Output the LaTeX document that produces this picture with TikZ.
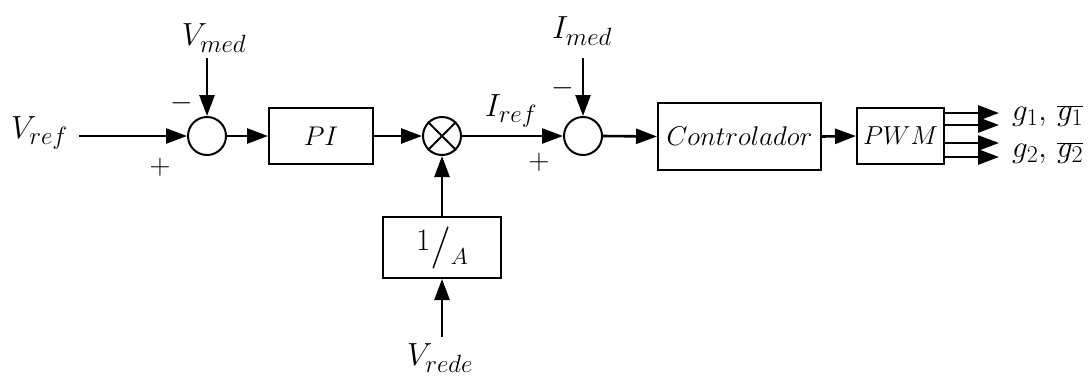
\RequirePackage{fix-cm}
\documentclass[tikz,border=0pt]{standalone}
\usetikzlibrary{arrows.meta}
% math sizes for every text size in use (larger subscripts)
\DeclareMathSizes{32}{32}{25}{20}
\DeclareMathSizes{31}{31}{24}{19}
\DeclareMathSizes{29}{29}{22}{17}
\DeclareMathSizes{27}{27}{21}{16}
\DeclareMathSizes{26}{26}{20}{15}
\DeclareMathSizes{23}{23}{18}{14}
\DeclareMathSizes{42}{42}{32}{25}
\begin{document}
\begin{tikzpicture}[x=1pt,y=-1pt,
  sig/.style={line width=2.6pt, -{Triangle[length=21pt,width=15pt]}},
  blk/.style={draw, line width=2pt, inner sep=0pt},
  sumc/.style={draw, circle, line width=2pt, minimum size=38pt, inner sep=0pt},
  lbl/.style={inner sep=0pt, font=\fontsize{32}{36}\selectfont},
  glbl/.style={inner sep=0pt, anchor=west, font=\fontsize{31}{34}\selectfont},
  sgn/.style={inner sep=0pt, font=\fontsize{29}{32}\selectfont}]
\useasboundingbox (0,0) rectangle (1091,376);

% summing junctions, multiplier and blocks
\node[sumc] (s1) at (207,136) {};
\node[blk, minimum width=104pt, minimum height=56pt, font=\fontsize{27}{30}\selectfont] (pi) at (321,136) {$PI$};
\node[sumc] (m) at (442,136) {};
\draw[line width=2pt] (m.north west) -- (m.south east) (m.north east) -- (m.south west);
\node[sumc] (s2) at (583,136) {};
\node[blk, minimum width=163pt, minimum height=67pt, font=\fontsize{27}{30}\selectfont] (ctrl) at (739.5,136.5) {$Controlador$};
\node[blk, minimum width=87pt, minimum height=56pt, font=\fontsize{26}{28}\selectfont] (pwm) at (900.5,136) {$PWM$};
\node[blk, minimum width=118pt, minimum height=61pt] (ia) at (442,247.5)
  {\raisebox{8pt}{\fontsize{31}{32}\selectfont$1$}{\fontsize{42}{42}\selectfont$/$}\raisebox{-6pt}{\fontsize{23}{24}\selectfont$A$}};

% inputs
\node[lbl, anchor=west] (vref) at (11,133) {$V_{ref}$};
\coordinate (vin) at (79,136);
\node[lbl] (vmed) at (214,38) {$V_{med}$};
\coordinate (vmedin) at (207,58);
\node[lbl] (vrede) at (440,358) {$V_{rede}$};
\coordinate (vredein) at (442,337);
\node[lbl] (imed) at (582,31) {$I_{med}$};
\coordinate (imedin) at (583,58);
\node[lbl] (iref) at (511,111) {$I_{ref}$};

% signs
\node[sgn] (m1) at (182,103) {$-$};
\node[sgn] (p1) at (160,167) {$+$};
\node[sgn] (m2) at (563,88) {$-$};
\node[sgn] (p2) at (539,162) {$+$};

% signal paths
\draw[sig] (vin) -- (s1.west);
\draw[sig] (vmedin) -- (s1.north);
\draw[sig] (s1.east) -- (pi.west);
\draw[sig] (pi.east) -- (m.west);
\draw[sig] (ia.north) -- (m.south);
\draw[sig] (vredein) -- (ia.south);
\draw[sig] (m.east) -- (s2.west);
\draw[sig] (imedin) -- (s2.north);
\draw[sig] (s2.east) -- (ctrl.west);
\draw[sig] (ctrl.east) -- (pwm.west);

% gate signal outputs
\foreach \yy/\nm in {113/o1, 125/o2, 143/o3, 157/o4} {
  \coordinate (\nm) at (999,\yy);
  \draw[sig] (pwm.east |- \nm) -- (\nm);
}
\node[glbl] (g1) at (1012,116) {$g_1,\,\overline{g_1}$};
\node[glbl] (g2) at (1012,153) {$g_2,\,\overline{g_2}$};
\end{tikzpicture}
\end{document}
